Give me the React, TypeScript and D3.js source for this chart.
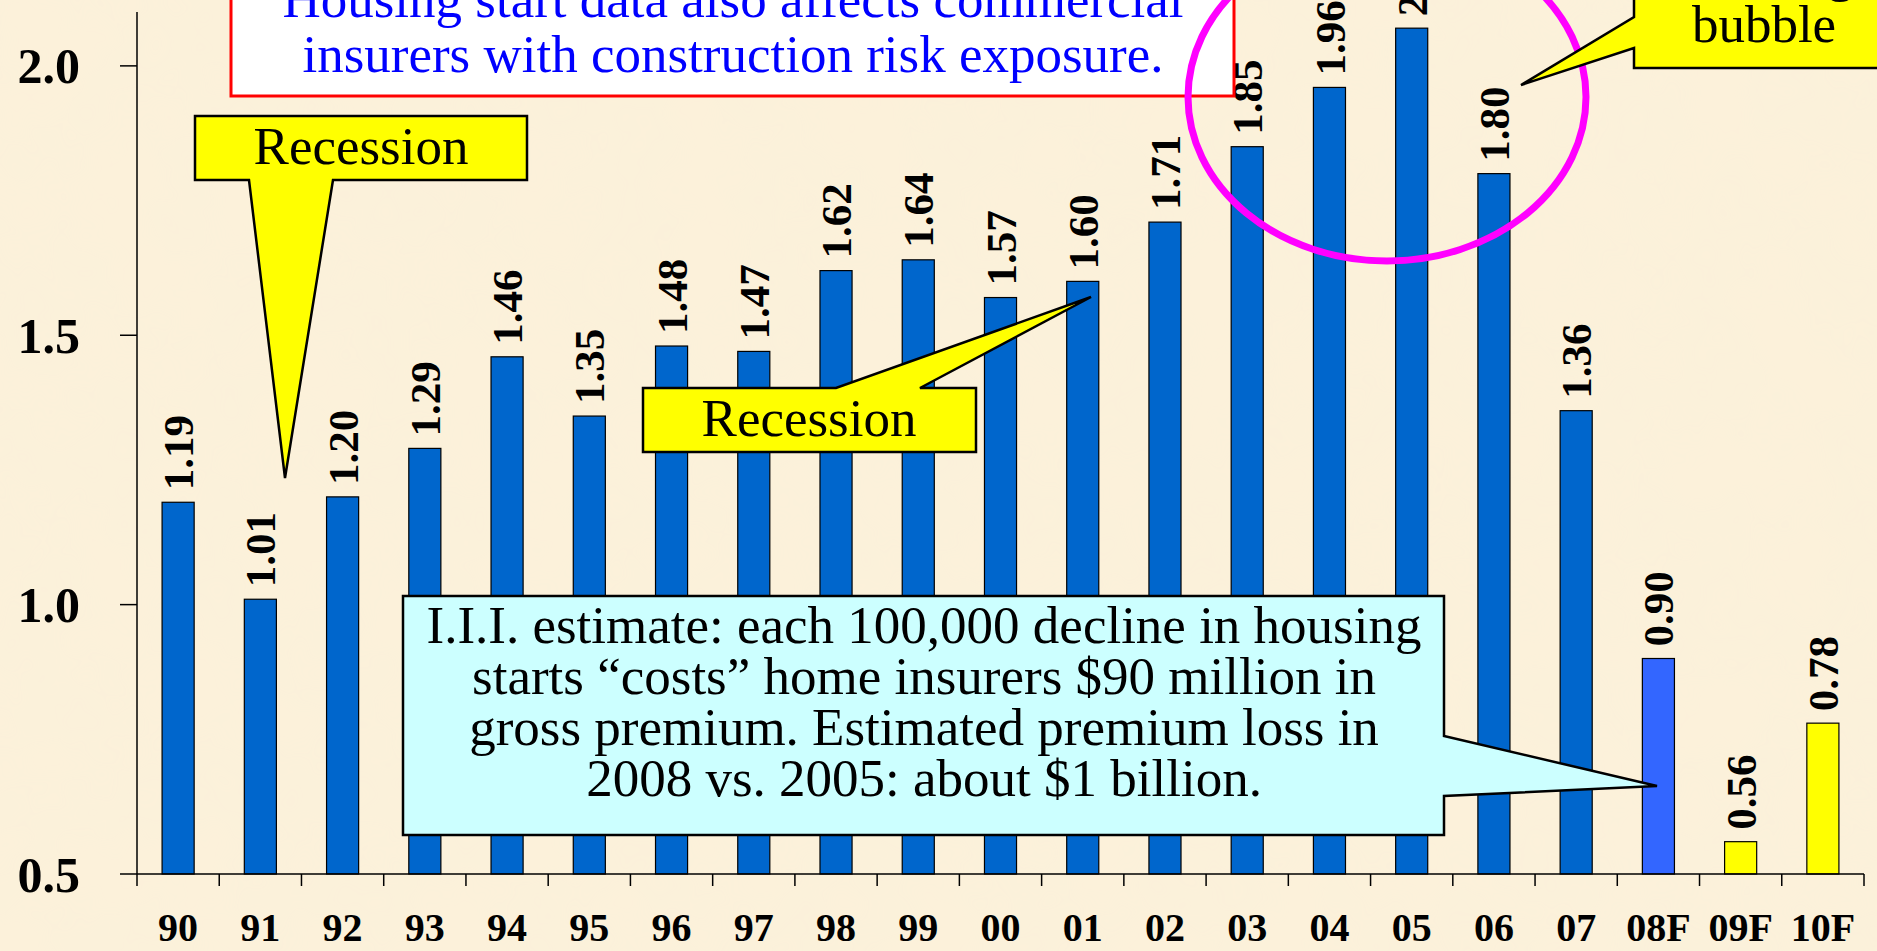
import React, { useRef, useEffect } from "react";
import * as d3 from "d3";

const width = 1877;
const height = 951;

// housing starts (millions)
const years = ["90", "91", "92", "93", "94", "95", "96", "97", "98", "99", "00", "01", "02", "03", "04", "05", "06", "07", "08F", "09F", "10F"];
const starts = [1.19, 1.01, 1.2, 1.29, 1.46, 1.35, 1.48, 1.47, 1.62, 1.64, 1.57, 1.6, 1.71, 1.85, 1.96, 2.07, 1.8, 1.36, 0.9, 0.56, 0.78];
const estimateYears = ["08F"];
const forecastYears = ["09F", "10F"];
const yTicks = [0.5, 1.0, 1.5, 2.0];

const topNote = ["Housing start data also affects commercial", "insurers with construction risk exposure."];
const iiiNote = [
  "I.I.I. estimate: each 100,000 decline in housing",
  "starts \u201Ccosts\u201D home insurers $90 million in",
  "gross premium.  Estimated premium loss in",
  "2008 vs. 2005: about $1 billion.",
];
const bubbleNote = ["Housing", "bubble"];

const serif = "'Liberation Serif', 'Times New Roman', serif";

const HousingChart = () => {
  const ref = useRef();

  useEffect(() => {
    const svg = d3.select(ref.current);
    svg.selectAll("*").remove();
    svg.attr("width", width).attr("height", height);

    // parchment background
    const defs = svg.append("defs");
    const f = defs.append("filter").attr("id", "parch").attr("x", 0).attr("y", 0).attr("width", "100%").attr("height", "100%");
    f.append("feTurbulence").attr("type", "fractalNoise").attr("baseFrequency", 0.012).attr("numOctaves", 3).attr("seed", 4);
    f.append("feColorMatrix")
      .attr("type", "matrix")
      .attr("values", "0 0 0 0 0.93  0 0 0 0 0.86  0 0 0 0 0.70  0 0 0 0.18 0");
    f.append("feComposite").attr("in2", "SourceGraphic").attr("operator", "in");
    svg.append("rect").attr("width", width).attr("height", height).attr("fill", "#FCF1DA");
    svg.append("rect").attr("width", width).attr("height", height).attr("fill", "#FCF1DA").attr("filter", "url(#parch)");

    const x = d3.scaleBand().domain(years).range([137, 1864]).paddingInner(0.61).paddingOuter(0.305);
    const y = d3.scaleLinear().domain([0.5, 2.1]).range([874, 12]);

    const barColor = (yr) =>
      forecastYears.includes(yr) ? "#FFFF00" : estimateYears.includes(yr) ? "#3366FF" : "#0066CC";

    // bars
    svg
      .selectAll("rect.bar")
      .data(years)
      .enter()
      .append("rect")
      .attr("class", "bar")
      .attr("x", (d) => x(d))
      .attr("width", x.bandwidth())
      .attr("y", (d, i) => y(starts[i]))
      .attr("height", (d, i) => y(0.5) - y(starts[i]))
      .attr("fill", barColor)
      .attr("stroke", "black")
      .attr("stroke-width", 1.2);

    // value labels
    svg
      .selectAll("text.val")
      .data(years)
      .enter()
      .append("text")
      .attr("class", "val")
      .attr("transform", (d, i) => `translate(${x(d) + x.bandwidth() / 2},${y(starts[i]) - 12}) rotate(-90)`)
      .attr("dy", "0.35em")
      .style("font-family", serif)
      .style("font-weight", "bold")
      .style("font-size", "43px")
      .text((d, i) => starts[i].toFixed(2));

    // y axis
    svg.append("line").attr("x1", 137).attr("x2", 137).attr("y1", y(2.1)).attr("y2", y(0.5)).attr("stroke", "black").attr("stroke-width", 1.5);
    yTicks.forEach((t) => {
      svg.append("line").attr("x1", 120).attr("x2", 137).attr("y1", y(t)).attr("y2", y(t)).attr("stroke", "black").attr("stroke-width", 1.5);
      svg
        .append("text")
        .attr("x", 80)
        .attr("y", y(t))
        .attr("dy", "0.35em")
        .attr("text-anchor", "end")
        .style("font-family", serif)
        .style("font-weight", "bold")
        .style("font-size", "50px")
        .text(t.toFixed(1));
    });

    // x axis
    svg.append("line").attr("x1", 137).attr("x2", 1864).attr("y1", y(0.5)).attr("y2", y(0.5)).attr("stroke", "black").attr("stroke-width", 1.5);
    const edges = years.map((d) => x(d) - (x.step() * x.paddingInner()) / 2).concat([x.range()[1]]);
    svg
      .selectAll("line.xt")
      .data(edges)
      .enter()
      .append("line")
      .attr("x1", (d) => d)
      .attr("x2", (d) => d)
      .attr("y1", y(0.5))
      .attr("y2", y(0.5) + 12)
      .attr("stroke", "black")
      .attr("stroke-width", 1.5);
    svg
      .selectAll("text.xl")
      .data(years)
      .enter()
      .append("text")
      .attr("x", (d) => x(d) + x.bandwidth() / 2)
      .attr("y", 941)
      .attr("text-anchor", "middle")
      .style("font-family", serif)
      .style("font-weight", "bold")
      .style("font-size", "40px")
      .text((d) => d);

    // top note box
    svg.append("rect").attr("x", 231).attr("y", -20).attr("width", 1003).attr("height", 116).attr("fill", "white").attr("stroke", "#FF0000").attr("stroke-width", 3);
    topNote.forEach((t, i) => {
      svg
        .append("text")
        .attr("x", 733)
        .attr("y", 17 + i * 55)
        .attr("text-anchor", "middle")
        .attr("fill", "#0000FF")
        .style("font-family", serif)
        .style("font-size", "53px")
        .text(t);
    });

    // callouts
    const callout = (d, fill) =>
      svg.append("path").attr("d", d).attr("fill", fill).attr("stroke", "black").attr("stroke-width", 2.5).attr("stroke-linejoin", "miter");
    const label = (t, cx, by) =>
      svg.append("text").attr("x", cx).attr("y", by).attr("text-anchor", "middle").style("font-family", serif).style("font-size", "53px").text(t);

    callout("M195,116 H527 V180 H333 L285,478 L249,180 H195 Z", "#FFFF00");
    label("Recession", 361, 164);

    callout("M643,388 H836 L1091,297 L920,388 H976 V452 H643 Z", "#FFFF00");
    label("Recession", 809, 436);

    callout("M403,596 H1444 V736 L1657,786 L1444,796 V835 H403 Z", "#CCFFFF");
    iiiNote.forEach((t, i) => label(t, 924, 643 + i * 51));

    // bubble ring
    svg.append("ellipse").attr("cx", 1387).attr("cy", 97).attr("rx", 199).attr("ry", 164).attr("fill", "none").attr("stroke", "#FF00FF").attr("stroke-width", 7);

    callout("M1634,-20 H1900 V68 H1634 V48 L1521,85 L1634,17 Z", "#FFFF00");
    bubbleNote.forEach((t, i) => label(t, 1764, -9 + i * 51));
  }, []);

  return (
    <div style={{ position: "absolute", left: 0, top: 0 }}>
      <svg ref={ref} style={{ display: "block" }} />
    </div>
  );
};

export default function App() {
  return <HousingChart />;
}
